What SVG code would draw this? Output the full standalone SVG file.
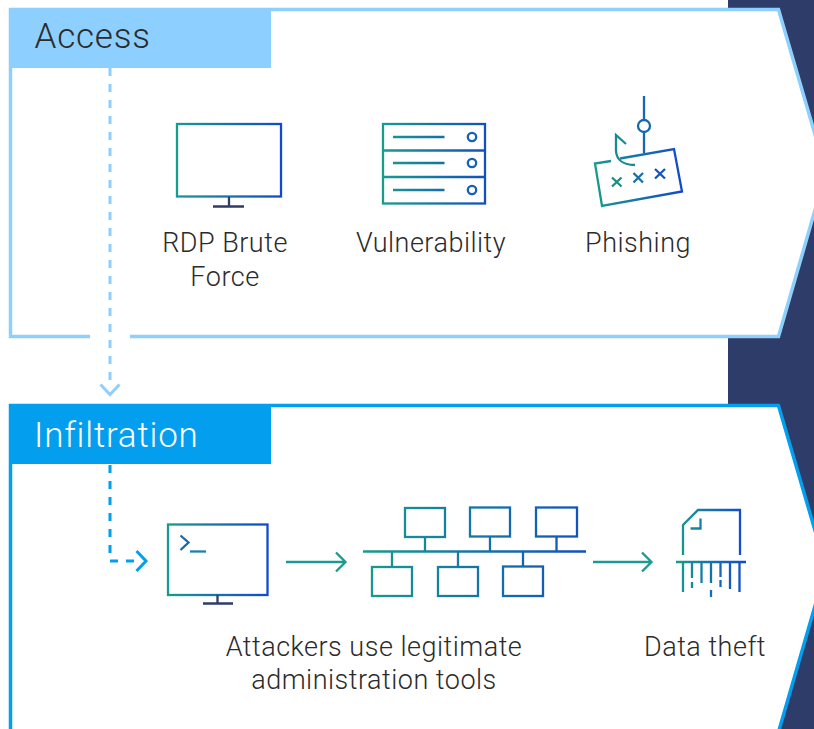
<svg xmlns="http://www.w3.org/2000/svg" width="814" height="729" viewBox="0 0 814 729">
<style>
text{font-family:Roboto,"Liberation Sans",sans-serif;font-weight:300;fill:#2b2b2b;font-size:27px;letter-spacing:.5px}
.h{font-size:35px;font-weight:300;letter-spacing:.8px}
.g1{fill:none;stroke:url(#g1);stroke-width:2.300}
.g2{fill:none;stroke:url(#g2);stroke-width:2.300}
.g3{fill:none;stroke:url(#g3);stroke-width:2.300}
.g4{fill:none;stroke:url(#g4);stroke-width:2.300}
.g5{fill:none;stroke:url(#g5);stroke-width:2.300}
.g6{fill:none;stroke:url(#g6);stroke-width:2.300}
.navy{fill:none;stroke:#2d3c68;stroke-width:2.300}
</style>
<defs>
<linearGradient id="g1" gradientUnits="userSpaceOnUse" x1="176" y1="0" x2="282" y2="0"><stop offset="0" stop-color="#189c8c"/><stop offset="1" stop-color="#1248d0"/></linearGradient>
<linearGradient id="g2" gradientUnits="userSpaceOnUse" x1="382" y1="0" x2="486" y2="0"><stop offset="0" stop-color="#189c8c"/><stop offset="1" stop-color="#1250c0"/></linearGradient>
<linearGradient id="g3" gradientUnits="userSpaceOnUse" x1="594" y1="0" x2="682" y2="0"><stop offset="0" stop-color="#189c8c"/><stop offset="1" stop-color="#1248d0"/></linearGradient>
<linearGradient id="g4" gradientUnits="userSpaceOnUse" x1="167" y1="0" x2="269" y2="0"><stop offset="0" stop-color="#189c8c"/><stop offset="1" stop-color="#1248d0"/></linearGradient>
<linearGradient id="g5" gradientUnits="userSpaceOnUse" x1="362" y1="0" x2="587" y2="0"><stop offset="0" stop-color="#189c8c"/><stop offset="1" stop-color="#1250c0"/></linearGradient>
<linearGradient id="g6" gradientUnits="userSpaceOnUse" x1="676" y1="0" x2="746" y2="0"><stop offset="0" stop-color="#189c8c"/><stop offset="1" stop-color="#1248d0"/></linearGradient>
</defs>
<rect width="814" height="729" fill="#fff"/>
<rect x="728" width="86" height="729" fill="#2d3c68"/>
<g id="access-panel">
<path d="M90 336.500H10.500V9.500H778.500L826 172L778.500 336.500H130" fill="#fff" stroke="#8dd0ff" stroke-width="3.500"/>
<rect x="9" y="8" width="262" height="60" fill="#8dd0ff"/>
<text class="h" x="34.500" y="48">Access</text>
</g>
<g id="infiltration-panel">
<path d="M10.500 729V405.500H778.500L826 568L778.500 732" fill="#fff" stroke="#039eee" stroke-width="3.500"/>
<rect x="9" y="404" width="262" height="60" fill="#039eee"/>
<text class="h" x="34" y="447" style="fill:#fff">Infiltration</text>
</g>
<g id="connectors" fill="none">
<path d="M110 68V384" stroke="#8dd0ff" stroke-width="3" stroke-dasharray="8 8"/>
<path d="M100.500 384.500L110 394.500L119.500 384.500" stroke="#8dd0ff" stroke-width="3"/>
<path d="M110 465V561H137" stroke="#039eee" stroke-width="3" stroke-dasharray="8 8"/>
<path d="M136.500 551L146 561L136.500 571" stroke="#039eee" stroke-width="3"/>
<path d="M286 562H344M336 552.500L345.500 562L336 571.500" stroke="#1a9a90" stroke-width="2.300"/>
<path d="M593 562H651M642 552.500L651.500 562L642 571.500" stroke="#1a9a90" stroke-width="2.300"/>
</g>
<g id="rdp">
<rect x="177" y="124" width="104" height="72.500" class="g1"/>
<path d="M229 197V207M213 206.500H244" class="navy"/>
<text x="225" y="252" text-anchor="middle">RDP Brute</text>
<text x="225" y="286" text-anchor="middle">Force</text>
</g>
<g id="vulnerability">
<rect x="383" y="124" width="102" height="79.500" class="g2"/>
<path d="M383 150.500H485M383 177H485M393 137H444.500M393 163H444.500M393 190H444.500" class="g2"/>
<circle cx="472" cy="137" r="4.200" fill="none" stroke="#1660b8" stroke-width="2.300"/>
<circle cx="472" cy="163" r="4.200" fill="none" stroke="#1660b8" stroke-width="2.300"/>
<circle cx="472" cy="190" r="4.200" fill="none" stroke="#1660b8" stroke-width="2.300"/>
<text x="431" y="252" text-anchor="middle">Vulnerability</text>
</g>
<g id="phishing">
<path d="M644 96V120M644 132V153" stroke="#1668b0" stroke-width="2.300" fill="none"/>
<circle cx="644" cy="126" r="6" fill="none" stroke="#1668b0" stroke-width="2.300"/>
<path d="M611 161L595 163.500L602 206L682 191.500L674 149L620 158.500" class="g3"/>
<path d="M626 144L616 135V150C616 158 621 165 635 165" fill="none" stroke="#178a9a" stroke-width="2.300"/>
<path d="M612 177.500L621.500 186.500M621.500 177.500L612 186.500" stroke="#189080" stroke-width="2.300" fill="none"/>
<path d="M633.500 173L643 182.500M643 173L633.500 182.500" stroke="#1870a8" stroke-width="2.300" fill="none"/>
<path d="M655 169L665 178.500M665 169L655 178.500" stroke="#1450c8" stroke-width="2.300" fill="none"/>
<text x="638" y="252" text-anchor="middle">Phishing</text>
</g>
<g id="terminal">
<rect x="168" y="524.500" width="99.500" height="70.500" class="g4"/>
<path d="M180.500 535.500L188.500 542.500L180.500 550" fill="none" stroke="#1a68a8" stroke-width="2.300"/>
<path d="M190 551.500H206" stroke="#1a80b0" stroke-width="2.300" fill="none"/>
<path d="M217.500 595V604M203 603.500H233" class="navy"/>
</g>
<g id="network">
<rect x="405" y="508" width="40" height="29" class="g5"/>
<rect x="470" y="507.500" width="40" height="29" class="g5"/>
<rect x="536" y="507.500" width="41" height="29" class="g5"/>
<rect x="372" y="567" width="40" height="29" class="g5"/>
<rect x="438" y="567" width="40" height="29" class="g5"/>
<rect x="503" y="566.500" width="40" height="29.500" class="g5"/>
<path d="M363 551.500H586M425 537V551M490 537V551M556.500 537V551M392 552V567M458 552V567M523 552V566" class="g5"/>
<text x="374" y="656" text-anchor="middle">Attackers use legitimate</text>
<text x="374" y="689" text-anchor="middle">administration tools</text>
</g>
<g id="data-theft">
<path d="M683 555V525L698 510H740V555M690.500 528.500H700.500V518.500" class="g6"/>
<path d="M676 562H746M683 562V592M692 562V578M692 582V588M701.500 562V583M711 562V583M711 590V597M720.500 562V577M720.500 580V587M730 562V589M739.500 562V592" class="g6"/>
<text x="705" y="656" text-anchor="middle">Data theft</text>
</g>
</svg>
